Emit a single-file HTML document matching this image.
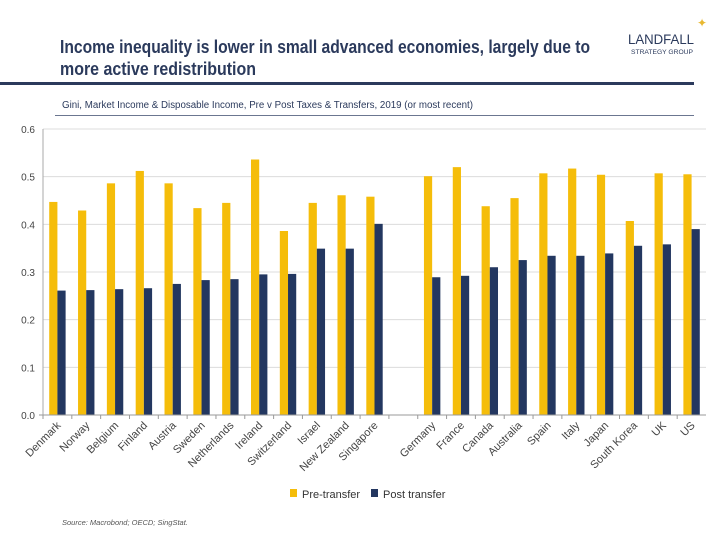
<!DOCTYPE html>
<html><head><meta charset="utf-8"><style>
body{margin:0;background:#fff;font-family:"Liberation Sans",sans-serif;}
#wrap{position:relative;width:720px;height:540px;overflow:hidden;background:#fff;}
</style></head><body>
<div id="wrap">
<svg id="chart" width="720" height="540">
  <text x="60" y="53" font-size="18" font-weight="bold" fill="#2b3a5c" textLength="530" lengthAdjust="spacingAndGlyphs">Income inequality is lower in small advanced economies, largely due to</text>
  <text x="60" y="75" font-size="18" font-weight="bold" fill="#2b3a5c" textLength="196" lengthAdjust="spacingAndGlyphs">more active redistribution</text>
  <g>
    <text x="628" y="44" font-size="14" fill="#2b3a5c" textLength="66" lengthAdjust="spacingAndGlyphs">LANDFALL</text>
    <text x="631" y="54" font-size="6.5" fill="#2b3a5c" textLength="62" lengthAdjust="spacingAndGlyphs">STRATEGY GROUP</text>
    <text x="702" y="27" font-size="12" text-anchor="middle" fill="#e8b830">✦</text>
  </g>
  <rect x="0" y="82" width="694" height="3" fill="#2b3a5c"/>
  <text x="62" y="108" font-size="10" fill="#2b3a5c" textLength="411" lengthAdjust="spacingAndGlyphs">Gini, Market Income &amp; Disposable Income, Pre v Post Taxes &amp; Transfers, 2019 (or most recent)</text>
  <rect x="55" y="115" width="639" height="1" fill="#6b7690"/>
  <g id="grid"></g><g id="bars"></g><g id="axes"></g>
  <g>
    <rect x="290" y="489" width="7" height="8" fill="#f5bd0a"/>
    <text x="302" y="498" font-size="11" fill="#333">Pre-transfer</text>
    <rect x="371" y="489" width="7" height="8" fill="#233760"/>
    <text x="383" y="498" font-size="11" fill="#333">Post transfer</text>
  </g>
  <text x="62" y="525" font-size="7.5" font-style="italic" fill="#555">Source: Macrobond;  OECD; SingStat.</text>
</svg>
</div>
<script>
const categories=["Denmark","Norway","Belgium","Finland","Austria","Sweden","Netherlands","Ireland","Switzerland","Israel","New Zealand","Singapore","","Germany","France","Canada","Australia","Spain","Italy","Japan","South Korea","UK","US"];
const preTransfer=[0.447,0.429,0.486,0.512,0.486,0.434,0.445,0.536,0.386,0.445,0.461,0.458,null,0.501,0.520,0.438,0.455,0.507,0.517,0.504,0.407,0.507,0.505];
const postTransfer=[0.261,0.262,0.264,0.266,0.275,0.283,0.285,0.295,0.296,0.349,0.349,0.401,null,0.289,0.292,0.310,0.325,0.334,0.334,0.339,0.355,0.358,0.390];
const yTicks=[0,0.1,0.2,0.3,0.4,0.5,0.6];
const yTickLabels=["0.0","0.1","0.2","0.3","0.4","0.5","0.6"];
const NS="http://www.w3.org/2000/svg";
const X0=43,X1=706,Y0=415,Y1=129,VMAX=0.6;
const slot=(X1-X0)/categories.length;
function y(v){return Y0-(v/VMAX)*(Y0-Y1);}
function x(i){return X0+i*slot;}
function mk(t,a,p){const e=document.createElementNS(NS,t);for(const k in a)e.setAttribute(k,a[k]);p.appendChild(e);return e;}
const grid=document.getElementById('grid'),bars=document.getElementById('bars'),axes=document.getElementById('axes');
yTicks.forEach((v,i)=>{
  if(v>0){const g=mk('line',{x1:X0,x2:X1,y1:y(v),y2:y(v),stroke:'#dcdcdc','stroke-width':1},grid);
  
  }
  const t=mk('text',{x:X0-8,y:y(v)+4,'font-size':10,'text-anchor':'end',fill:'#444'},axes);
  t.textContent=yTickLabels[i];
  
  
});
const ya=mk('line',{x1:X0,x2:X0,y1:Y1,y2:Y0,stroke:'#aaa'},axes);


const xa=mk('line',{x1:X0-4,x2:X1,y1:Y0,y2:Y0,stroke:'#999'},axes);


const bw=8.2,off=(slot-2*bw)/2;
categories.forEach((c,i)=>{
  const tk=mk('line',{x1:x(i),x2:x(i),y1:Y0,y2:Y0+4,stroke:'#999'},axes);
  
  
  if(preTransfer[i]!=null){
    const b=mk('rect',{x:x(i)+off,y:y(preTransfer[i]),width:bw,height:Y0-y(preTransfer[i]),fill:'#f5bd0a'},bars);
    
    
  }
  if(postTransfer[i]!=null){
    const b=mk('rect',{x:x(i)+off+bw,y:y(postTransfer[i]),width:bw,height:Y0-y(postTransfer[i]),fill:'#233760'},bars);
    
    
  }
  if(c){
    const cx=x(i)+slot/2+4,cy=Y0+11;
    const t=mk('text',{x:cx,y:cy,'font-size':11,'text-anchor':'end',fill:'#444',transform:`rotate(-45 ${cx} ${cy})`},axes);
    t.textContent=c;
    
    
  }
});
</script>
</body></html>
